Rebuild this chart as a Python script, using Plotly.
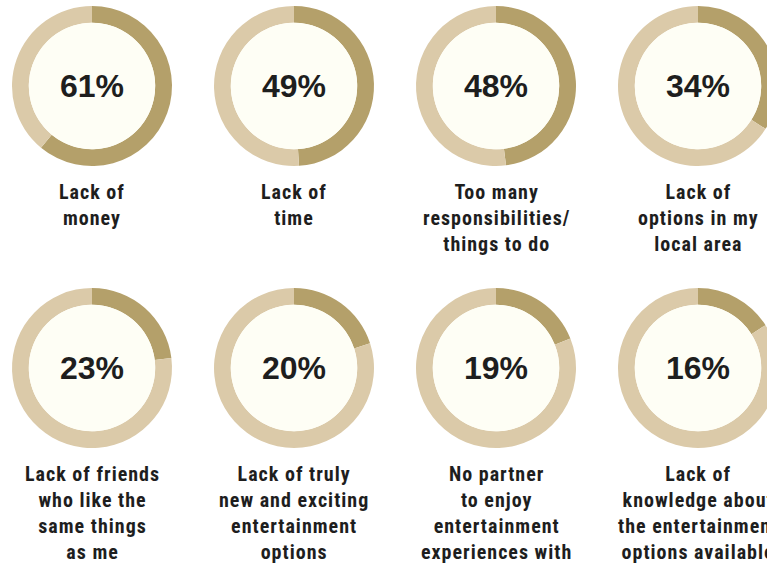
import plotly.graph_objects as go

# Survey results: share of respondents naming each barrier to entertainment
percentages = [61, 49, 48, 34, 23, 20, 19, 16]
labels = [
    "Lack of<br>money",
    "Lack of<br>time",
    "Too many<br>responsibilities/<br>things to do",
    "Lack of<br>options in my<br>local area",
    "Lack of friends<br>who like the<br>same things<br>as me",
    "Lack of truly<br>new and exciting<br>entertainment<br>options",
    "No partner<br>to enjoy<br>entertainment<br>experiences with",
    "Lack of<br>knowledge about<br>the entertainment<br>options available",
]

# Page geometry (pixels)
W, H = 800, 566
N_COLS = 4
COL_X0, COL_STEP = 92, 202
ROW_Y0, ROW_STEP = 86, 282
R_OUT = 80
HOLE = 0.79
LABEL_GAP = 92

DARK = "#B4A06A"
LIGHT = "#DBCAA9"
INNER = "#FEFEF5"
TEXT = "#1E1E1E"

fig = go.Figure()
annotations = []

for i, (pct, lab) in enumerate(zip(percentages, labels)):
    cx = COL_X0 + (i % N_COLS) * COL_STEP
    cy = ROW_Y0 + (i // N_COLS) * ROW_STEP

    def dom(r):
        return dict(
            x=[(cx - r) / W, (cx + r) / W],
            y=[1 - (cy + r) / H, 1 - (cy - r) / H],
        )

    # ring: share in dark gold, remainder in light beige
    fig.add_trace(go.Pie(
        values=[pct, 100 - pct],
        hole=HOLE,
        sort=False,
        direction="clockwise",
        rotation=0,
        marker=dict(colors=[DARK, LIGHT], line=dict(width=0)),
        textinfo="none",
        hoverinfo="skip",
        showlegend=False,
        domain=dom(R_OUT),
    ))
    # cream disc filling the hole
    fig.add_trace(go.Pie(
        values=[1],
        sort=False,
        marker=dict(colors=[INNER], line=dict(width=0)),
        textinfo="none",
        hoverinfo="skip",
        showlegend=False,
        domain=dom(R_OUT * HOLE),
    ))

    annotations.append(dict(
        x=cx / W, y=1 - cy / H, xref="paper", yref="paper",
        text=f"{pct}%", showarrow=False,
        xanchor="center", yanchor="middle",
        font=dict(family="Liberation Sans, Arial, sans-serif", size=32,
                  color=TEXT, weight="bold"),
    ))
    spaced = "<br>".join(
        f'<span style="letter-spacing:1px">{line}</span>' for line in lab.split("<br>")
    )
    annotations.append(dict(
        x=cx / W, y=1 - (cy + LABEL_GAP) / H, xref="paper", yref="paper",
        text=spaced, showarrow=False,
        xanchor="center", yanchor="top", align="center",
        font=dict(family="Roboto Condensed, Liberation Sans, sans-serif",
                  size=20, color=TEXT, weight="bold"),
    ))

fig.update_layout(
    width=W, height=H,
    margin=dict(l=0, r=0, t=0, b=0),
    paper_bgcolor="white",
    plot_bgcolor="white",
    annotations=annotations,
)

fig.write_html("out.html")
